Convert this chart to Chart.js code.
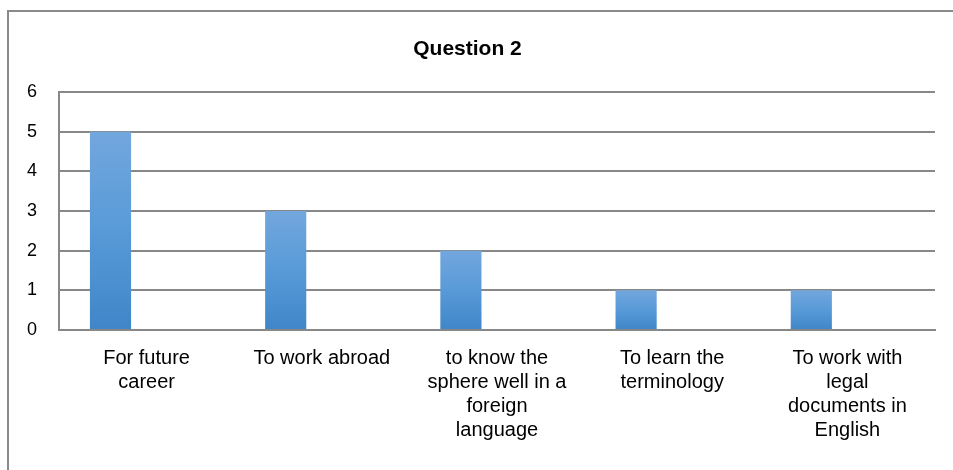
<!DOCTYPE html>
<html>
<head>
    <title>Question 2</title>
    <script src="https://cdn.jsdelivr.net/npm/chart.js@4.4.1/dist/chart.umd.min.js"></script>
    <style>
        html, body {
            margin: 0;
            padding: 0;
            background-color: white;
            overflow: hidden;
        }
        .frame {
            position: absolute;
            left: 7px;
            top: 10px;
            width: 1000px;
            height: 500px;
            border-left: 2px solid #8a8a8a;
            border-top: 2px solid #8a8a8a;
        }
        .chart-box {
            position: absolute;
            left: 0;
            top: 0;
            width: 953px;
            height: 470px;
        }
    </style>
</head>
<body>
    <div class="frame"></div>
    <div class="chart-box">
        <canvas id="chart"></canvas>
    </div>

    <script>
        // Chart data
        const categories = [
            ['For future', 'career'],
            'To work abroad',
            ['to know the', 'sphere well in a', 'foreign', 'language'],
            ['To learn the', 'terminology'],
            ['To work with', 'legal', 'documents in', 'English']
        ];
        const answers = [5, 3, 2, 1, 1];
        // second (empty) series, keeps the bars to the left of each category
        const emptySeries = [null, null, null, null, null];
        const yTicks = [0, 1, 2, 3, 4, 5, 6];

        const fontName = "'Liberation Sans', Arial, sans-serif";

        function barGradient(ctx) {
            const chart = ctx.chart;
            if (!chart.chartArea || ctx.raw == null) return '#4f93d4';
            const yScale = chart.scales.y;
            const top = yScale.getPixelForValue(ctx.raw);
            const bottom = yScale.getPixelForValue(0);
            const g = chart.ctx.createLinearGradient(0, top, 0, bottom);
            g.addColorStop(0, '#72a7dd');
            g.addColorStop(0.5, '#589ad8');
            g.addColorStop(1, '#3f86c8');
            return g;
        }

        new Chart(document.getElementById('chart'), {
            type: 'bar',
            data: {
                labels: categories,
                datasets: [{
                    label: 'Series 1',
                    data: answers,
                    backgroundColor: barGradient,
                    borderWidth: 0,
                    categoryPercentage: 0.824,
                    barPercentage: 0.57
                }, {
                    label: 'Series 2',
                    data: emptySeries,
                    backgroundColor: '#4f93d4',
                    categoryPercentage: 0.824,
                    barPercentage: 0.57
                }]
            },
            options: {
                responsive: true,
                maintainAspectRatio: false,
                animation: false,
                layout: {
                    padding: { left: 0, right: 18, top: 0, bottom: 0 }
                },
                plugins: {
                    legend: { display: false },
                    tooltip: { enabled: false },
                    title: {
                        display: true,
                        text: 'Question 2',
                        color: '#000',
                        font: { family: fontName, size: 21, weight: 'bold', lineHeight: 1.2 },
                        padding: { top: 37, bottom: 30 }
                    }
                },
                scales: {
                    x: {
                        grid: { display: false, drawTicks: false },
                        border: { display: true, color: '#888', width: 2 },
                        ticks: {
                            color: '#000',
                            font: { family: fontName, size: 20, lineHeight: 1.2 },
                            padding: 16,
                            maxRotation: 0,
                            autoSkip: false
                        },
                        afterFit: function (scale) { scale.height = 140; }
                    },
                    y: {
                        min: 0,
                        max: 6,
                        afterBuildTicks: function (scale) {
                            scale.ticks = yTicks.map(v => ({ value: v }));
                        },
                        grid: { color: '#888', lineWidth: 2, drawTicks: false },
                        border: { display: true, color: '#888', width: 2 },
                        ticks: {
                            color: '#000',
                            font: { family: fontName, size: 18 },
                            padding: 22
                        },
                        afterFit: function (scale) { scale.width = 59; }
                    }
                }
            }
        });
    </script>
</body>
</html>
